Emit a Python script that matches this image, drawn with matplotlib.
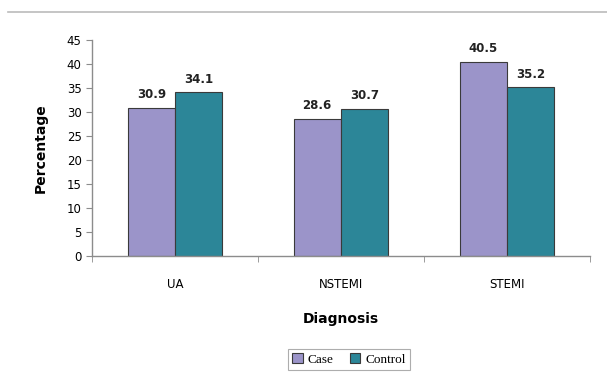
import numpy as np
from matplotlib import use
use('Agg')
from matplotlib import pyplot as plt
from matplotlib.lines import Line2D

# data
diagnoses = ['UA', 'NSTEMI', 'STEMI']
case_vals = [30.9, 28.6, 40.5]
control_vals = [34.1, 30.7, 35.2]
yticks = list(range(0, 50, 5))

case_col = '#9b94c9'
ctrl_col = '#2c8698'
edge_col = '#3a3a3a'
axis_col = '#8c8c8c'

fig = plt.figure(figsize=(6.07, 3.81), dpi=100)
ax = fig.add_axes([0.1516, 0.328, 0.820, 0.567])

x = np.arange(len(diagnoses))
w = 0.285
b1 = ax.bar(x - w/2, case_vals, w, color=case_col, edgecolor=edge_col, linewidth=0.8, label='Case')
b2 = ax.bar(x + w/2, control_vals, w, color=ctrl_col, edgecolor=edge_col, linewidth=0.8, label='Control')

for bars, vals in [(b1, case_vals), (b2, control_vals)]:
    for r, v in zip(bars, vals):
        ax.text(r.get_x() + r.get_width()/2, v + 1.3, str(v), ha='center', va='bottom',
                fontsize=8.5, fontweight='bold', color='#222222')

ax.set_xlim(-0.5, 2.5)
ax.set_ylim(0, 45)
ax.set_yticks(yticks)
ax.set_xticks(x)
ax.set_xticklabels(diagnoses, fontsize=8.5)
ax.set_xticks([-0.5, 0.5, 1.5, 2.5], minor=True)
ax.tick_params(axis='x', which='major', length=0, pad=16)
ax.tick_params(axis='x', which='minor', length=4, color=axis_col, direction='out')
ax.tick_params(axis='y', length=4, color=axis_col, labelsize=8.5)

for s in ['top', 'right']:
    ax.spines[s].set_visible(False)
for s in ['left', 'bottom']:
    ax.spines[s].set_color(axis_col)
    ax.spines[s].set_linewidth(1.0)

ax.set_ylabel('Percentage', fontsize=10, fontweight='bold', labelpad=14)
ax.set_xlabel('Diagnosis', fontsize=10, fontweight='bold', labelpad=15)

leg = fig.legend(handles=[b1, b2], labels=['Case', 'Control'],
                 loc='upper center', bbox_to_anchor=(0.575, 0.083), ncol=2,
                 prop={'family': 'Liberation Serif', 'size': 9.5},
                 frameon=True, fancybox=False, edgecolor='#999999',
                 handlelength=0.8, handleheight=0.8, handletextpad=0.4,
                 columnspacing=1.2, borderpad=0.3, borderaxespad=0)
leg.get_frame().set_linewidth(0.8)

# top rule
fig.add_artist(Line2D([0.013, 1.0], [0.9685, 0.9685], color='#bbbbbb', linewidth=1.2))

plt.savefig('out.png')
